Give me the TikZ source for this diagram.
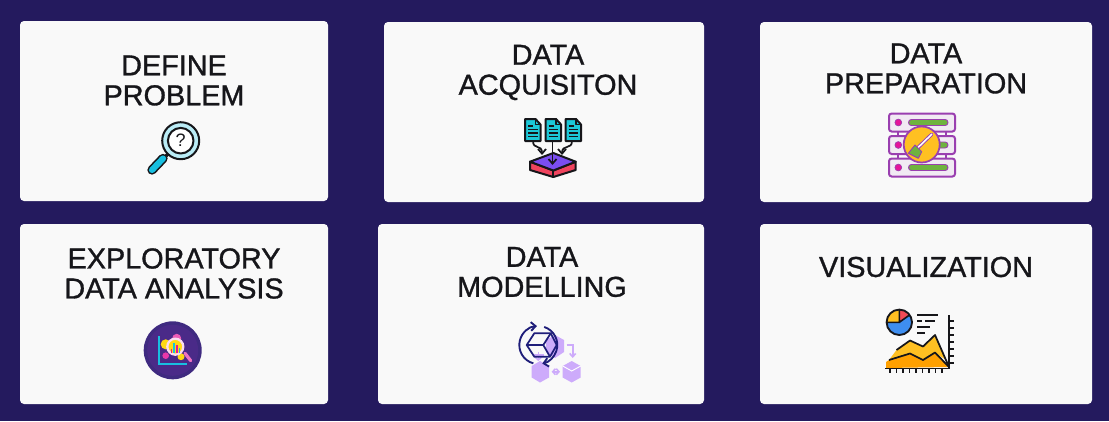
\documentclass[tikz,border=0pt]{standalone}
\usepackage{fontspec}
\setmainfont{Liberation Sans}
\newfontfamily\ttlfont[FakeBold=1.1]{Liberation Sans}
\usetikzlibrary{arrows.meta}
\definecolor{bgnavy}{HTML}{241A5E}
\definecolor{cardw}{HTML}{F9F9F9}
\definecolor{ink}{HTML}{16161A}
\definecolor{cyanA}{HTML}{18BFE0}
\definecolor{tealA}{HTML}{1CC8D8}
\definecolor{purpA}{HTML}{7B4DF0}
\definecolor{redA}{HTML}{F0445E}
\definecolor{plum}{HTML}{9A3FB0}
\definecolor{pinkA}{HTML}{E5149A}
\definecolor{greenA}{HTML}{6FB33F}
\definecolor{yelA}{HTML}{FFC022}
\definecolor{edaP}{HTML}{4A2A88}
\definecolor{edaD}{HTML}{3F2A80}
\definecolor{lilac}{HTML}{CDABFB}
\definecolor{navyB}{HTML}{1F1E7A}
\definecolor{blueA}{HTML}{3E8EF0}
\definecolor{orangeA}{HTML}{FFA000}
\tikzset{
  x=0.75pt,y=-0.75pt,
  card/.style={fill=cardw,rounded corners=3pt,draw=none},
  title/.style={font=\ttlfont\fontsize{21.6pt}{22.5pt}\selectfont,text=ink,align=center,inner sep=0pt},
  ol/.style={draw=ink,line width=1.5pt,line join=round,line cap=round},
  ar/.style={draw=ink,line width=1.3pt,line cap=round,-{Straight Barb[length=3.5pt,width=6pt,line width=1.3pt]}},
  navar/.style={draw=navyB,line width=1.4pt,-{Straight Barb[length=3.5pt,width=6.5pt]}},
}
\begin{document}
\begin{tikzpicture}
\useasboundingbox[fill=bgnavy] (0,0) rectangle (1109,421);
% cards
\fill[card] (20,21) rectangle (328,201);
\fill[card] (384,22) rectangle (704,202);
\fill[card] (760,22) rectangle (1092,202);
\fill[card] (20,224) rectangle (328,404);
\fill[card] (378,224) rectangle (704,404);
\fill[card] (760,224) rectangle (1092,404);
% titles
\node[title] (t1) at (174,80.5) {DEFINE\\PROBLEM};
\node[title] (t2) at (548,72.5) {DATA\\ACQUISITON};
\node[title] (t3) at (926,68.5) {DATA\\PREPARATION};
\node[title] (t4) at (174,273.5) {EXPLORATORY\\DATA ANALYSIS};
\node[title] (t5) at (542,272) {DATA\\MODELLING};
\node[title] (t6) at (926,267) {VISUALIZATION};
% --- magnifier
\draw[line width=7pt,line cap=round,ink] (163,158.5) -- (152,170);
\draw[line width=4.6pt,line cap=round,cyanA] (163,158.5) -- (152,170);
\draw[ink,line width=2.5pt] (166,156) -- (171,151);
\draw[ol,fill=white!70!cyanA] (180.7,140.7) circle (18.5);
\draw[ol,fill=white] (180.7,140.7) circle (12.8);
\node[font=\fontsize{13.5pt}{13.5pt}\selectfont,text=ink,inner sep=0pt] (qm) at (180.7,140.5) {?};
% --- documents
\foreach \dx in {525,545.5,565.5}{
  \begin{scope}[shift={(\dx,119)}]
  \draw[ol,fill=tealA] (0,0) -- (10.5,0) -- (15.5,5.5) -- (15.5,22) -- (0,22) -- cycle;
  \draw[ol,line width=1pt] (10.5,0) -- (10.5,5.5) -- (15.5,5.5);
  \draw[ink,line width=1.1pt] (3,7) -- (8,7) (3,10.5) -- (12.5,10.5) (3,14) -- (12.5,14) (3,17.5) -- (12.5,17.5);
  \end{scope}
}
\draw[ol,fill=redA] (530,161.7) -- (553.3,170.5) -- (575.7,161.7) -- (575.7,170) -- (553.3,177) -- (530,170) -- cycle;
\draw[ol,fill=purpA] (530,161.7) -- (553.3,153) -- (575.7,161.7) -- (553.3,170.5) -- cycle;
\draw[ol] (553.3,170.5) -- (553.3,177);
\draw[ar] (552.5,141) -- (552.5,165);
\draw[ar] (533,141) .. controls (533,150) and (542,144) .. (542,155);
\draw[ar] (572,141) .. controls (572,150) and (562,144) .. (562,155);
% --- server
\draw[plum,line width=1.1pt] (898,131) -- (898,136) (946,131) -- (946,136) (898,154) -- (898,158.5) (946,154) -- (946,158.5);
\foreach \ty in {113.5,136,158.5}{
  \draw[plum,line width=1.5pt,fill=cardw!92!plum,rounded corners=2pt] (889,\ty) rectangle (955,\ty+18);
  \fill[pinkA,draw=plum,line width=.5pt] (898.3,\ty+9) circle (3.4);
  \fill[greenA,draw=plum,line width=.7pt,rounded corners=2.2pt] (908.5,\ty+6) rectangle (948,\ty+12);
}
\draw[plum,line width=1.3pt,fill=yelA] (921.7,144.5) circle (18);
\draw[plum,line width=2.6pt,line cap=round] (917,148.5) -- (931.7,134.3);
\draw[white,line width=1.2pt,line cap=round] (917,148.5) -- (931.7,134.3);
\draw[plum,line width=.7pt,fill=greenA,line join=round] (915,145) -- (921.7,151.7) -- (918.3,158.3) -- (908.3,153.3) -- cycle;
% --- EDA
\fill[edaD] (172.7,350.3) circle (29);
\fill[edaP] (172.7,350.3) circle (25.5);
\draw[cyanA,line width=1.3pt] (159.3,336) -- (159.3,364) -- (186.7,364);
\fill[yelA!60!yellow] (165.7,344.3) circle (5);
\fill[pinkA!85!white] (165.7,355.7) circle (3.3);
\fill[pinkA!70!white] (176.7,338.3) circle (4.5);
\fill[yelA!60!yellow] (181,356.7) circle (3.5);
\draw[pinkA!60!white,line width=2.4pt,line cap=round] (185,353.3) -- (190.7,360.7);
\draw[white!85!pinkA,line width=1.7pt,fill=yelA!60!yellow] (175.3,346.7) circle (8);
\fill[pinkA] (170.5,348.5) rectangle (172.2,352.5);
\fill[cyanA] (173,342.5) rectangle (175,352.5);
\fill[pinkA] (175.8,344.5) rectangle (177.8,352.5);
\fill[cyanA] (178.6,347.5) rectangle (180.2,352.5);
% --- modelling
\fill[lilac] (540,361) -- (549,366) -- (549,377.5) -- (540,382.5) -- (531.7,377.5) -- (531.7,366) -- cycle;
\fill[lilac] (571.7,361) -- (580.7,366) -- (580.7,377.5) -- (571.7,382.5) -- (562.7,377.5) -- (562.7,366) -- cycle;
\draw[white,line width=.7pt] (562.7,366) -- (571.7,371) -- (580.7,366);
\fill[lilac] (555,335) -- (564,340) -- (564,352) -- (555,358) -- (546,352) -- (546,340) -- cycle;
\draw[lilac,line width=1.2pt,-{Straight Barb[length=2.5pt,width=4.5pt]}] (566.7,345) -- (572.7,345) -- (572.7,358);
\draw[lilac,line width=1.2pt,{Straight Barb[length=2pt,width=4.5pt]}-{Straight Barb[length=2pt,width=4.5pt]}] (551.7,371.7) -- (560,371.7);
\draw[lilac,line width=1.2pt,-{Straight Barb[length=2pt,width=4.5pt]}] (538.3,351.7) -- (538.3,361);
\draw[lilac,line width=1.2pt] (533,355) -- (544,355);
\draw[navar] (538.3,345) ++(105:19) arc (105:266:19);
\draw[navar] (538.3,345) ++(-72:19) arc (-72:78:19);
\draw[navyB,line width=1.3pt,line join=round] (526.7,345) -- (534.3,333.3) -- (550.7,333.3) -- (556.7,345) -- (550,356.7) -- (534.3,356.7) -- cycle;
\draw[navyB,line width=1.3pt,line join=round] (526.7,345) -- (543.3,345) -- (550.7,333.3) (543.3,345) -- (550,356.7);
% --- visualization
\fill[orangeA] (889,360) -- (910,353.5) -- (923,360) -- (935,352.5) -- (949,367) -- (886,368) -- (886,362) -- cycle;
\fill[yelA] (889,360) -- (896.5,350) -- (910,340.5) -- (923,346.5) -- (935,335) -- (946,360) -- (935,352.5) -- (923,360) -- (910,353.5) -- cycle;
\draw[ink,line width=1.3pt,line join=round] (889,360) -- (910,353.5) -- (923,360) -- (935,352.5) -- (949,367);
\draw[ink,line width=1.3pt,line join=round] (896.5,350) -- (910,340.5) -- (923,346.5) -- (935,335) -- (949,367);
\draw[ink,line width=1.3pt] (949,315) -- (949,368.5) -- (885,368.5);
\foreach \tx in {890,896.5,903,909.5,916,922.5,929,935.5,942}{\draw[ink,line width=1pt] (\tx,368.5) -- (\tx,372.5);}
\foreach \ty in {321,328,335,342,349,356,363}{\draw[ink,line width=1pt] (949,\ty) -- (953.5,\ty);}
\fill[blueA] (899.3,322.3) circle (12.5);
\fill[yelA] (899.3,322.3) -- (886.8,322.3) arc (-180:-90:12.5) -- cycle;
\fill[redA!90!orange] (899.3,322.3) -- (899.3,309.8) arc (-90:-35:12.5) -- cycle;
\draw[ink,line width=1.4pt] (899.3,322.3) circle (12.7);
\draw[ink,line width=1.2pt] (886.6,322.3) -- (899.3,322.3) -- (899.3,309.6) (899.3,322.3) -- (909.5,315);
\draw[ink,line width=.9pt] (917,315) -- (938,315) (917,321) -- (922,321) (925,321) -- (935,321) (917,327) -- (930,327) (917,333) -- (925,333);
\end{tikzpicture}
\end{document}
